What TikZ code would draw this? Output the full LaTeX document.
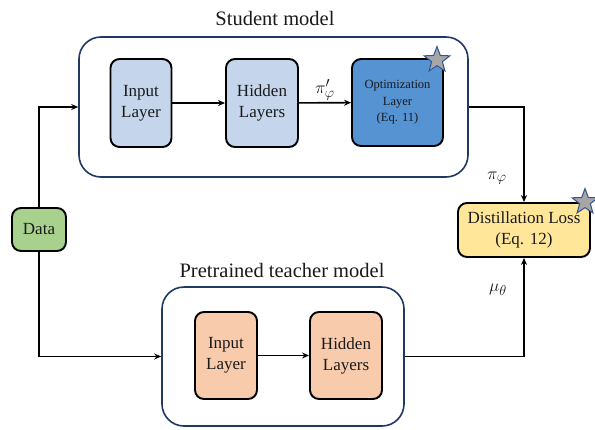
\documentclass[tikz,border=0pt]{standalone}
\usepackage{fontspec}
\setmainfont{Liberation Serif}
\usetikzlibrary{arrows.meta,shapes.geometric}
\definecolor{contb}{HTML}{1F3864}
\definecolor{sfill}{HTML}{C5D5EC}
\definecolor{ofill}{HTML}{5593D3}
\definecolor{tfill}{HTML}{F8CBAD}
\definecolor{dfill}{HTML}{A9D18E}
\definecolor{lfill}{HTML}{FFE699}
\definecolor{txt}{HTML}{1A1A1A}
\definecolor{starf}{HTML}{A6A6A6}
\definecolor{stard}{HTML}{2F5597}
\tikzset{
  container/.style={draw=contb, line width=1.6pt, rounded corners=22pt, fill=white},
  layerbox/.style={draw=black, line width=1.9pt, rounded corners=9pt, align=center, font=\fontsize{17}{21}\selectfont, text=txt, inner sep=0pt},
  conn/.style={draw=black, line width=1.6pt, -{Stealth[length=7pt,width=6pt]}},
  title/.style={font=\fontsize{20.5}{24}\selectfont, text=txt},
  lbl/.style={font=\fontsize{19}{22}\selectfont, text=txt},
  starmark/.style={star, star points=5, star point ratio=2.4, draw=stard, fill=starf, line width=1pt, minimum size=27pt, inner sep=0pt}
}
\begin{document}
\begin{tikzpicture}[x=1pt,y=-1pt]
\useasboundingbox (0,0) rectangle (595,429);
% containers
\node[container, minimum width=389pt, minimum height=140pt] (stu) at (273.5,107) {};
\node[container, minimum width=242pt, minimum height=139pt] (tea) at (283,356.5) {};
% titles
\node[title] (stitle) at (275,18) {Student model};
\node[title] (ttitle) at (282,270) {Pretrained teacher model};
% student layers
\node[layerbox, fill=sfill, minimum width=61pt, minimum height=88pt] (sin) at (141,103) {Input\\Layer};
\node[layerbox, fill=sfill, minimum width=72pt, minimum height=88pt] (shid) at (262,103) {Hidden\\Layers};
\node[layerbox, fill=ofill, minimum width=91pt, minimum height=87pt, font=\fontsize{12.5}{16.5}\selectfont] (sopt) at (397.5,102.5) {Optimization\\Layer\\(Eq. 11)};
\node[starmark] (star1) at (437,60) {};
% teacher layers
\node[layerbox, fill=tfill, minimum width=62pt, minimum height=87pt] (tin) at (226,355.5) {Input\\Layer};
\node[layerbox, fill=tfill, minimum width=72pt, minimum height=87pt] (thid) at (346,355.5) {Hidden\\Layers};
% data and loss
\node[layerbox, fill=dfill, minimum width=54pt, minimum height=43pt] (data) at (39,229.5) {Data};
\node[layerbox, fill=lfill, minimum width=132pt, minimum height=54pt, font=\fontsize{17}{21}\selectfont] (loss) at (524,230) {Distillation Loss\\(Eq. 12)};
\node[starmark] (star2) at (585,202) {};
% connectors
\draw[conn] (sin) -- (shid);
\draw[conn] (shid) -- (sopt);
\draw[conn] (tin) -- (thid);
\draw[conn] (data.north) |- (stu.west);
\draw[conn] (data.south) |- (tea.west);
\draw[conn] (stu.east) -| (loss.north);
\draw[conn] (tea.east) -| (loss.south);
% labels
\node[lbl] (l1) at (325,90) {$\pi'_{\varphi}$};
\node[lbl] (l2) at (497,178) {$\pi_{\varphi}$};
\node[lbl] (l3) at (498,290) {$\mu_{\theta}$};
\end{tikzpicture}
\end{document}
